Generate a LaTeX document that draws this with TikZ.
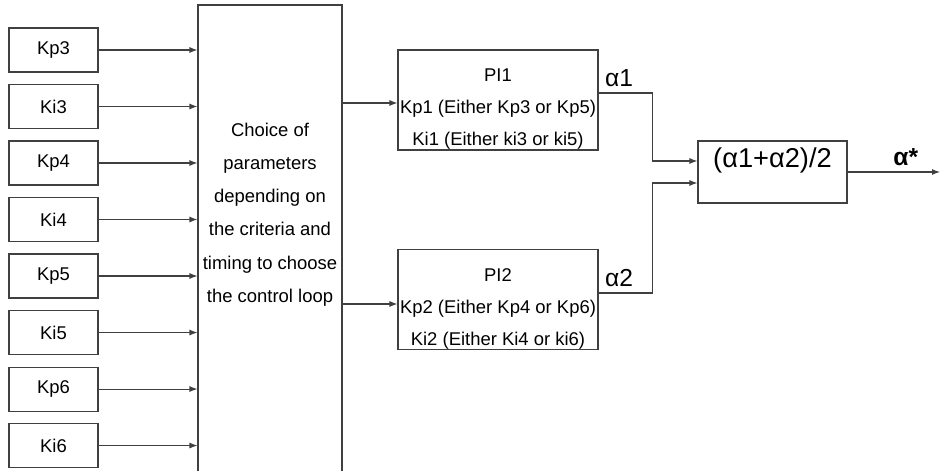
\documentclass[tikz,border=0pt]{standalone}
\usepackage{fontspec}
\setmainfont{Liberation Sans}
\usetikzlibrary{arrows.meta, positioning}

\begin{document}
\begin{tikzpicture}[
    paramblock/.style={rectangle, draw=black!75, line width=0.6pt, minimum width=1.78cm,
                       minimum height=0.88cm, inner sep=0pt, font=\fontsize{10.5}{12}\selectfont},
    choiceblock/.style={rectangle, draw=black!75, line width=0.6pt, minimum width=2.88cm,
                        minimum height=9.5cm, inner sep=0pt},
    piblock/.style={rectangle, draw=black!75, line width=0.6pt, minimum width=4cm,
                    minimum height=2cm, inner sep=0pt},
    avgblock/.style={rectangle, draw=black!75, line width=0.6pt, minimum width=2.98cm,
                     minimum height=1.24cm, inner sep=0pt},
    blocktext/.style={align=center, font=\fontsize{10.5}{18.2}\selectfont},
    alphalabel/.style={font=\fontsize{14}{16}\selectfont},
    signal/.style={-{Latex[length=1.6mm, width=1.2mm]}, draw=black!75, line width=0.6pt}
]
\useasboundingbox (0,0) rectangle (18.82,-9.42);
\clip (0,0) rectangle (18.82,-9.42);

% gain inputs
\node[paramblock] (Kp3) at (1.07,-1.0) {Kp3};
\node[paramblock] (Ki3) [below=0.229cm of Kp3] {Ki3};
\node[paramblock] (Kp4) [below=0.229cm of Ki3] {Kp4};
\node[paramblock] (Ki4) [below=0.229cm of Kp4] {Ki4};
\node[paramblock] (Kp5) [below=0.229cm of Ki4] {Kp5};
\node[paramblock] (Ki5) [below=0.229cm of Kp5] {Ki5};
\node[paramblock] (Kp6) [below=0.229cm of Ki5] {Kp6};
\node[paramblock] (Ki6) [below=0.229cm of Kp6] {Ki6};

% selection block
\node[choiceblock, label={[blocktext, font=\fontsize{10.5}{18.9}\selectfont, yshift=0.56cm]center:Choice of\\parameters\\depending on\\the criteria and\\timing to choose\\the control loop}] (Choice) at (5.4,-4.85) {};

% controllers
\node[piblock, label={[blocktext, yshift=-0.18cm]center:PI1\\Kp1 (Either Kp3 or Kp5)\\Ki1 (Either ki3 or ki5)}] (PI1) at (9.96,-2.0) {};
\node[piblock, label={[blocktext, yshift=-0.19cm]center:PI2\\Kp2 (Either Kp4 or Kp6)\\Ki2 (Either Ki4 or ki6)}] (PI2) at (9.96,-5.99) {};

% average
\node[avgblock, label={[font=\fontsize{15.5}{17}\selectfont, yshift=0.24cm]center:(α1+α2)/2}] (Avg) at (15.45,-3.44) {};
\coordinate (Out) at (18.80,-3.44);

\foreach \p in {Kp3,Ki3,Kp4,Ki4,Kp5,Ki5,Kp6,Ki6}
    \draw[signal] (\p.east) -- (\p.east -| Choice.west);

\draw[signal] ([yshift=-0.06cm]PI1.west -| Choice.east) -- ([yshift=-0.06cm]PI1.west);
\draw[signal] ([yshift=-0.09cm]PI2.west -| Choice.east) -- ([yshift=-0.09cm]PI2.west);

\draw[signal] ([yshift=0.14cm]PI1.east) -| node[alphalabel, pos=0.19, above] {α1}
    ([xshift=-0.9cm, yshift=0.22cm]Avg.west) -- ([yshift=0.22cm]Avg.west);
\draw[signal] ([yshift=0.13cm]PI2.east) -| node[alphalabel, pos=0.19, above] {α2}
    ([xshift=-0.9cm, yshift=-0.22cm]Avg.west) -- ([yshift=-0.22cm]Avg.west);

\draw[signal] (Avg.east) -- node[alphalabel, pos=0.63, above] {\textbf{α*}} (Out);

\end{tikzpicture}
\end{document}
